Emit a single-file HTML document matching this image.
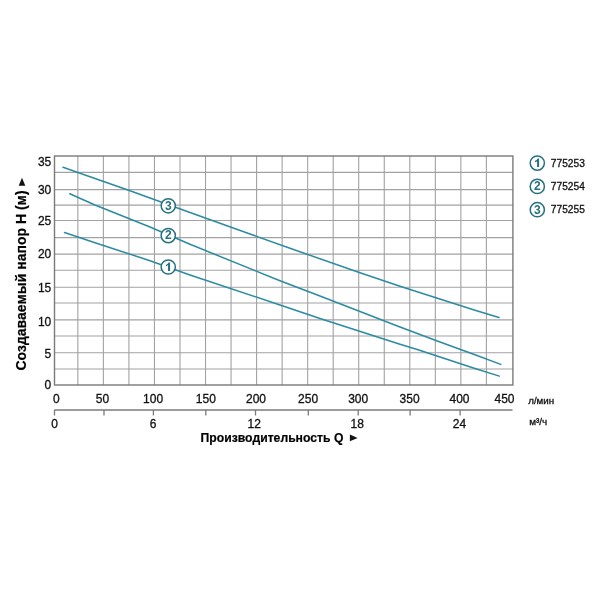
<!DOCTYPE html>
<html><head><meta charset="utf-8"><style>
html,body{margin:0;padding:0;background:#fff;}
.r{fill:#111;stroke:#111;stroke-width:0.3px;}
.b{fill:#000;stroke:#000;stroke-width:0.2px;}
svg{display:block;will-change:transform;font-family:"Liberation Sans",sans-serif;}
</style></head><body>
<svg width="600" height="600" viewBox="0 0 600 600">
<rect width="600" height="600" fill="#fff"/>
<line x1="77.85" y1="156.0" x2="77.85" y2="385.0" stroke="#a2a2a2" stroke-width="1.1"/>
<line x1="103.38" y1="156.0" x2="103.38" y2="385.0" stroke="#a2a2a2" stroke-width="1.1"/>
<line x1="128.92" y1="156.0" x2="128.92" y2="385.0" stroke="#a2a2a2" stroke-width="1.1"/>
<line x1="154.45" y1="156.0" x2="154.45" y2="385.0" stroke="#a2a2a2" stroke-width="1.1"/>
<line x1="179.99" y1="156.0" x2="179.99" y2="385.0" stroke="#a2a2a2" stroke-width="1.1"/>
<line x1="205.52" y1="156.0" x2="205.52" y2="385.0" stroke="#a2a2a2" stroke-width="1.1"/>
<line x1="231.05" y1="156.0" x2="231.05" y2="385.0" stroke="#a2a2a2" stroke-width="1.1"/>
<line x1="256.59" y1="156.0" x2="256.59" y2="385.0" stroke="#a2a2a2" stroke-width="1.1"/>
<line x1="282.12" y1="156.0" x2="282.12" y2="385.0" stroke="#a2a2a2" stroke-width="1.1"/>
<line x1="307.66" y1="156.0" x2="307.66" y2="385.0" stroke="#a2a2a2" stroke-width="1.1"/>
<line x1="333.19" y1="156.0" x2="333.19" y2="385.0" stroke="#a2a2a2" stroke-width="1.1"/>
<line x1="358.72" y1="156.0" x2="358.72" y2="385.0" stroke="#a2a2a2" stroke-width="1.1"/>
<line x1="384.26" y1="156.0" x2="384.26" y2="385.0" stroke="#a2a2a2" stroke-width="1.1"/>
<line x1="409.79" y1="156.0" x2="409.79" y2="385.0" stroke="#a2a2a2" stroke-width="1.1"/>
<line x1="435.33" y1="156.0" x2="435.33" y2="385.0" stroke="#a2a2a2" stroke-width="1.1"/>
<line x1="460.86" y1="156.0" x2="460.86" y2="385.0" stroke="#a2a2a2" stroke-width="1.1"/>
<line x1="486.39" y1="156.0" x2="486.39" y2="385.0" stroke="#a2a2a2" stroke-width="1.1"/>
<line x1="54.5" y1="172.40" x2="512.9" y2="172.40" stroke="#a2a2a2" stroke-width="1.1"/>
<line x1="54.5" y1="189.60" x2="512.9" y2="189.60" stroke="#a2a2a2" stroke-width="1.1"/>
<line x1="54.5" y1="205.10" x2="512.9" y2="205.10" stroke="#a2a2a2" stroke-width="1.1"/>
<line x1="54.5" y1="220.50" x2="512.9" y2="220.50" stroke="#a2a2a2" stroke-width="1.1"/>
<line x1="54.5" y1="237.60" x2="512.9" y2="237.60" stroke="#a2a2a2" stroke-width="1.1"/>
<line x1="54.5" y1="254.10" x2="512.9" y2="254.10" stroke="#a2a2a2" stroke-width="1.1"/>
<line x1="54.5" y1="270.25" x2="512.9" y2="270.25" stroke="#a2a2a2" stroke-width="1.1"/>
<line x1="54.5" y1="287.25" x2="512.9" y2="287.25" stroke="#a2a2a2" stroke-width="1.1"/>
<line x1="54.5" y1="303.00" x2="512.9" y2="303.00" stroke="#a2a2a2" stroke-width="1.1"/>
<line x1="54.5" y1="319.90" x2="512.9" y2="319.90" stroke="#a2a2a2" stroke-width="1.1"/>
<line x1="54.5" y1="335.95" x2="512.9" y2="335.95" stroke="#a2a2a2" stroke-width="1.1"/>
<line x1="54.5" y1="352.75" x2="512.9" y2="352.75" stroke="#a2a2a2" stroke-width="1.1"/>
<line x1="54.5" y1="369.00" x2="512.9" y2="369.00" stroke="#a2a2a2" stroke-width="1.1"/>
<rect x="54.5" y="156.0" width="458.40" height="229.00" fill="none" stroke="#7a7a7a" stroke-width="1.4"/>
<path d="M63.0,167.3 L90,176.7 L130,190.7 L150,198 L190,212.5 L250,234 L290,248.3 L360,272.7 L400,286.3 L475,310.25 L499,317.5" fill="none" stroke="#2b8ba0" stroke-width="1.5" stroke-linecap="round" stroke-linejoin="round"/>
<path d="M69.8,193.8 L95,205 L150,227 L190,244.3 L280,280.7 L320,296 L400,327 L440,342 L475,354.75 L500.75,364.4" fill="none" stroke="#2b8ba0" stroke-width="1.5" stroke-linecap="round" stroke-linejoin="round"/>
<path d="M64.5,232.5 L95,242.7 L150,260.7 L190,275 L280,305 L320,318.5 L400,344.3 L418,349.7 L475,368.5 L499.3,376.1" fill="none" stroke="#2b8ba0" stroke-width="1.5" stroke-linecap="round" stroke-linejoin="round"/>
<circle cx="168.25" cy="205.8" r="7.1" fill="#fff" stroke="#26707f" stroke-width="1.5"/>
<text x="168.40" y="209.60" text-anchor="middle" font-size="12" font-weight="bold" fill="#26707f">3</text>
<circle cx="168.25" cy="235.6" r="7.1" fill="#fff" stroke="#26707f" stroke-width="1.5"/>
<text x="168.40" y="239.40" text-anchor="middle" font-size="12" font-weight="bold" fill="#26707f">2</text>
<circle cx="168.25" cy="267.0" r="7.1" fill="#fff" stroke="#26707f" stroke-width="1.5"/>
<path transform="translate(168.25,267.0)" d="M-0.2,3.9 L1.8,3.9 L1.8,-4.6 L0.3,-4.6 C-0.1,-3.5 -1.1,-2.6 -2.3,-2.3 L-2.3,-0.8 C-1.5,-1.0 -0.8,-1.4 -0.2,-1.9 Z" fill="#26707f"/>
<text x="51.3" y="165.80" text-anchor="end" font-size="12" class="r">35</text>
<text x="51.3" y="194.30" text-anchor="end" font-size="12" class="r">30</text>
<text x="51.3" y="225.30" text-anchor="end" font-size="12" class="r">25</text>
<text x="51.3" y="257.70" text-anchor="end" font-size="12" class="r">20</text>
<text x="51.3" y="291.50" text-anchor="end" font-size="12" class="r">15</text>
<text x="51.3" y="325.80" text-anchor="end" font-size="12" class="r">10</text>
<text x="51.3" y="357.70" text-anchor="end" font-size="12" class="r">5</text>
<text x="51.3" y="388.50" text-anchor="end" font-size="12" class="r">0</text>
<text x="56.25" y="402.8" text-anchor="middle" font-size="12" class="r">0</text>
<text x="102.4" y="402.8" text-anchor="middle" font-size="12" class="r">50</text>
<text x="153.1" y="402.8" text-anchor="middle" font-size="12" class="r">100</text>
<text x="205.8" y="402.8" text-anchor="middle" font-size="12" class="r">150</text>
<text x="256" y="402.8" text-anchor="middle" font-size="12" class="r">200</text>
<text x="308.1" y="402.8" text-anchor="middle" font-size="12" class="r">250</text>
<text x="358.2" y="402.8" text-anchor="middle" font-size="12" class="r">300</text>
<text x="409.6" y="402.8" text-anchor="middle" font-size="12" class="r">350</text>
<text x="459.5" y="402.8" text-anchor="middle" font-size="12" class="r">400</text>
<text x="504.5" y="402.8" text-anchor="middle" font-size="12" class="r">450</text>
<line x1="54.3" y1="410.1" x2="512.5" y2="410.1" stroke="#7a7a7a" stroke-width="1.5"/>
<line x1="54.5" y1="410" x2="54.5" y2="415.5" stroke="#7a7a7a" stroke-width="1.3"/>
<line x1="104.0" y1="410" x2="104.0" y2="415.5" stroke="#7a7a7a" stroke-width="1.3"/>
<line x1="153.4" y1="410" x2="153.4" y2="415.5" stroke="#7a7a7a" stroke-width="1.3"/>
<line x1="205.8" y1="410" x2="205.8" y2="415.5" stroke="#7a7a7a" stroke-width="1.3"/>
<line x1="255.5" y1="410" x2="255.5" y2="415.5" stroke="#7a7a7a" stroke-width="1.3"/>
<line x1="308.3" y1="410" x2="308.3" y2="415.5" stroke="#7a7a7a" stroke-width="1.3"/>
<line x1="358.2" y1="410" x2="358.2" y2="415.5" stroke="#7a7a7a" stroke-width="1.3"/>
<line x1="410.1" y1="410" x2="410.1" y2="415.5" stroke="#7a7a7a" stroke-width="1.3"/>
<line x1="460.1" y1="410" x2="460.1" y2="415.5" stroke="#7a7a7a" stroke-width="1.3"/>
<text x="54.5" y="427.8" text-anchor="middle" font-size="12" class="r">0</text>
<text x="153" y="427.8" text-anchor="middle" font-size="12" class="r">6</text>
<text x="254.3" y="427.8" text-anchor="middle" font-size="12" class="r">12</text>
<text x="357.2" y="427.8" text-anchor="middle" font-size="12" class="r">18</text>
<text x="459.5" y="427.8" text-anchor="middle" font-size="12" class="r">24</text>
<text x="528.2" y="403.8" font-size="9.2" class="r" textLength="26" lengthAdjust="spacingAndGlyphs">л/мин</text>
<text x="529.2" y="424.7" font-size="9.2" class="r" textLength="18" lengthAdjust="spacingAndGlyphs">м³/ч</text>
<text x="200.6" y="442" font-size="12.2" font-weight="bold" class="b">Производительность Q</text>
<polygon points="349.9,434.5 357.6,437.9 349.9,441.3" fill="#111"/>
<text transform="translate(25.5,370.5) rotate(-90)" x="0" y="0" font-size="14" font-weight="bold" class="b">Создаваемый напор H (м)</text>
<polygon points="18.7,185.8 22,177.8 25.3,185.8" fill="#111"/>
<circle cx="537.3" cy="163.1" r="7.1" fill="#fff" stroke="#26707f" stroke-width="1.5"/>
<path transform="translate(537.3,163.1)" d="M-0.2,3.9 L1.8,3.9 L1.8,-4.6 L0.3,-4.6 C-0.1,-3.5 -1.1,-2.6 -2.3,-2.3 L-2.3,-0.8 C-1.5,-1.0 -0.8,-1.4 -0.2,-1.9 Z" fill="#26707f"/>
<text x="550.8" y="166.60" font-size="10.2" class="r" fill="#1a1a1a">775253</text>
<circle cx="537.3" cy="186.4" r="7.1" fill="#fff" stroke="#26707f" stroke-width="1.5"/>
<text x="537.45" y="190.20" text-anchor="middle" font-size="12" font-weight="bold" fill="#26707f">2</text>
<text x="550.8" y="189.90" font-size="10.2" class="r" fill="#1a1a1a">775254</text>
<circle cx="537.3" cy="209.7" r="7.1" fill="#fff" stroke="#26707f" stroke-width="1.5"/>
<text x="537.45" y="213.50" text-anchor="middle" font-size="12" font-weight="bold" fill="#26707f">3</text>
<text x="550.8" y="213.20" font-size="10.2" class="r" fill="#1a1a1a">775255</text>
</svg>
</body></html>
